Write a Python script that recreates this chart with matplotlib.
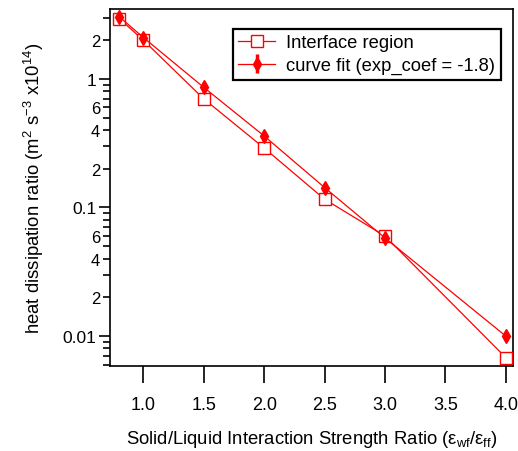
import matplotlib
matplotlib.use("Agg")
import matplotlib.pyplot as plt
from matplotlib.ticker import FixedLocator, FixedFormatter
import numpy as np

plt.rcParams['font.family'] = ['Liberation Sans', 'DejaVu Sans']
plt.rcParams['mathtext.fontset'] = 'custom'
plt.rcParams['mathtext.rm'] = 'Liberation Sans'
plt.rcParams['mathtext.it'] = 'Liberation Sans'

x_ratio = [0.8, 1.0, 1.5, 2.0, 2.5, 3.0, 4.0]
interface_region = [2.95, 2.0, 0.70, 0.29, 0.116, 0.060, 0.0068]
curve_fit = [3.05, 2.1, 0.86, 0.36, 0.143, 0.058, 0.0100]
curve_fit_err = [0.25, 0.17, 0.08, 0.03, 0.012, 0.005, 0.0009]

x_ticks = [1.0, 1.5, 2.0, 2.5, 3.0, 3.5, 4.0]
x_ticklabels = ["1.0", "1.5", "2.0", "2.5", "3.0", "3.5", "4.0"]
y_major = [0.01, 0.1, 1]
y_major_labels = ["0.01", "0.1", "1"]

red = "#ff0000"

fig = plt.figure(figsize=(5.18, 4.52), dpi=100)
ax = fig.add_axes([0.2124, 0.1888, 0.7774, 0.7891])

ax.plot(x_ratio, interface_region, color=red, lw=0.9, marker='s', ms=8.5,
        mfc='white', mec=red, mew=1.0, label="Interface region", zorder=3)
ax.errorbar(x_ratio, curve_fit, yerr=curve_fit_err, color=red, lw=0.9,
            marker='d', ms=7.5, mfc=red, mec=red, ecolor=red, elinewidth=2.5,
            capsize=0, label="curve fit (exp_coef = -1.8)", zorder=4)

ax.set_yscale('log')
ax.set_xlim(0.724, 4.058)
ax.set_ylim(0.00588, 3.5)

ax.xaxis.set_major_locator(FixedLocator(x_ticks))
ax.xaxis.set_major_formatter(FixedFormatter(x_ticklabels))
ax.xaxis.set_minor_locator(FixedLocator([]))

ax.yaxis.set_major_locator(FixedLocator(y_major))
ax.yaxis.set_major_formatter(FixedFormatter(y_major_labels))
minor_vals = []
minor_labels = []
for dec in [0.001, 0.01, 0.1, 1]:
    for m in range(2, 10):
        v = m * dec
        minor_vals.append(v)
        minor_labels.append(str(m) if (m in (2, 4, 6) and dec >= 0.01) else "")
ax.yaxis.set_minor_locator(FixedLocator(minor_vals))
ax.yaxis.set_minor_formatter(FixedFormatter(minor_labels))

ax.tick_params(axis='x', which='major', direction='out', length=12, width=1.2,
               labelsize=13, pad=10, colors='black')
ax.tick_params(axis='y', which='major', direction='out', length=8, width=1.2,
               labelsize=12.5, pad=2)
ax.tick_params(axis='y', which='minor', direction='out', length=5, width=1.2,
               labelsize=12, pad=2)
ax.tick_params(top=False, right=False)

for s in ax.spines.values():
    s.set_linewidth(1.2)
    s.set_color('black')

ax.set_xlabel(r"Solid/Liquid Interaction Strength Ratio ($\varepsilon_{wf}/\varepsilon_{ff}$)",
              fontsize=13.3, labelpad=11)
ax.set_ylabel(r"heat dissipation ratio (m$^{2}$ s$^{-3}$ x10$^{14}$)", fontsize=13.3, labelpad=12)

leg = ax.legend(loc='upper left', bbox_to_anchor=(0.305, 0.944), fontsize=13.2,
                frameon=True, fancybox=False, framealpha=1, edgecolor='black',
                borderpad=0.3, labelspacing=0.3, handlelength=2.0, handletextpad=0.6,
                borderaxespad=0)
leg.get_frame().set_linewidth(1.6)

fig.savefig("out.png", dpi=100)
